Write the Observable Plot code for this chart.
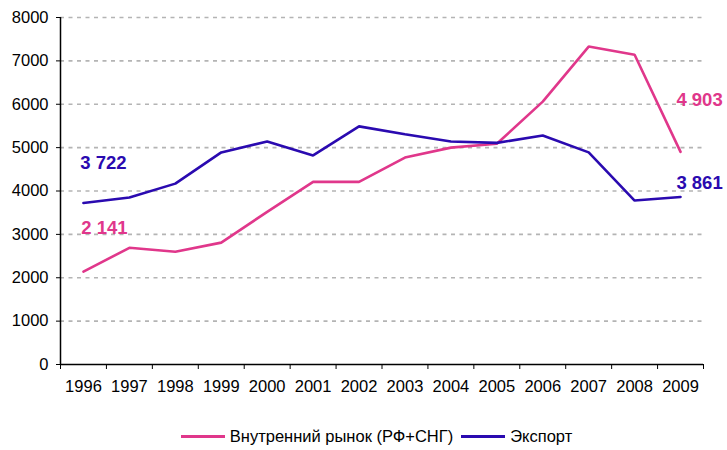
<!DOCTYPE html>
<html><head><meta charset="utf-8">
<script src="https://cdn.jsdelivr.net/npm/d3@7"></script>
<script src="https://cdn.jsdelivr.net/npm/@observablehq/plot@0.6"></script>
<style>
body{margin:0;background:#fff;font-family:"Liberation Sans",Arial,sans-serif;}
#legend{height:32px;display:flex;justify-content:center;align-items:center;font-size:16.5px;color:#000;padding-left:26px}
.item{display:flex;align-items:center;margin:0 4px}
.sw{width:44px;height:3px;margin-right:5px}
</style></head><body>
<div id="chart"></div>
<div id="legend"></div>
<script>
const years = [1996,1997,1998,1999,2000,2001,2002,2003,2004,2005,2006,2007,2008,2009];
const domestic = [2141,2690,2600,2810,3520,4210,4210,4770,5000,5090,6060,7330,7140,4903];
const exportVals = [3722,3850,4170,4890,5140,4820,5490,5310,5140,5110,5280,4890,3780,3861];
const seriesNames = ["Внутренний рынок (РФ+СНГ)", "Экспорт"];
const colors = ["#e0378b", "#2a0ab0"];
const yTicks = [0,1000,2000,3000,4000,5000,6000,7000,8000];

const fmt = v => d3.format(",")(v).replace(/,/g, " ");
const rows = [];
years.forEach((y,i)=>{
  rows.push({year:y, value:domestic[i], s:seriesNames[0]});
  rows.push({year:y, value:exportVals[i], s:seriesNames[1]});
});
const n = years.length - 1;
const labels = [
  {year:years[0], value:domestic[0], s:seriesNames[0], dy:-44, dx:21},
  {year:years[0], value:exportVals[0], s:seriesNames[1], dy:-40, dx:20},
  {year:years[n], value:domestic[n], s:seriesNames[0], dy:-52, dx:19},
  {year:years[n], value:exportVals[n], s:seriesNames[1], dy:-14, dx:19}
];
const halfTicks = d3.range(years[0]-0.5, years[n]+1, 1);

const chart = Plot.plot({
  width: 727, height: 420,
  marginLeft: 60, marginRight: 24, marginTop: 17, marginBottom: 56,
  style: {fontFamily: '"Liberation Sans",Arial,sans-serif', fontSize: "16.5px", color:"#000", overflow:"visible"},
  x: {type:"linear", domain:[years[0]-0.5, years[n]+0.5], label:null},
  y: {domain:[0,8000], label:null},
  color: {domain: seriesNames, range: colors},
  marks: [
    Plot.ruleY(yTicks.filter(d=>d>0), {stroke:"#b4b4b4", strokeWidth:1.6, strokeDasharray:"4,4.5"}),
    Plot.axisY({ticks:yTicks, tickSize:4, tickPadding:8, tickFormat:d=>String(d), stroke:"#000", label:null}),
    Plot.axisX({ticks:years, tickSize:0, tickPadding:16, tickFormat:d=>String(d), label:null}),
    Plot.axisX({ticks:halfTicks, tickSize:5, tickFormat:()=>"", stroke:"#000", label:null}),
    Plot.ruleX([years[0]-0.5], {stroke:"#000", strokeWidth:1.5}),
    Plot.ruleY([0], {stroke:"#000", strokeWidth:1.5}),
    Plot.line(rows, {x:"year", y:"value", z:"s", stroke:"s", strokeWidth:2.6, strokeLinejoin:"miter"}),
    ...labels.map(l => Plot.text([l], {x:"year", y:"value", text:d=>fmt(d.value), fill:colors[seriesNames.indexOf(l.s)], dx:l.dx, dy:l.dy, fontWeight:"bold", fontSize:18.5}))
  ]
});
document.getElementById("chart").appendChild(chart);

const lg = document.getElementById("legend");
seriesNames.forEach((s,i)=>{
  const it = document.createElement("div"); it.className="item";
  const sw = document.createElement("div"); sw.className="sw"; sw.style.background=colors[i];
  const t = document.createElement("span"); t.textContent=s;
  it.appendChild(sw); it.appendChild(t); lg.appendChild(it);
});
</script>
</body></html>
